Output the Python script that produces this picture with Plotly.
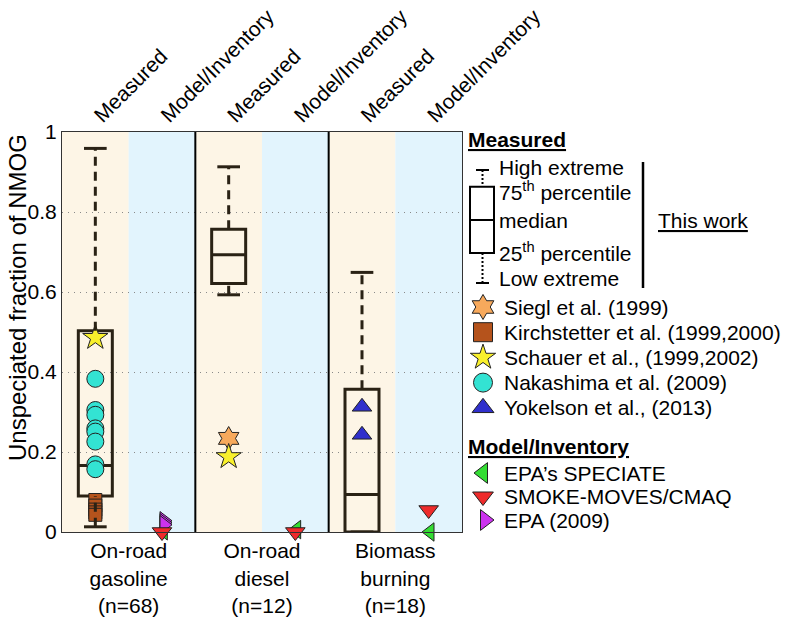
import plotly.graph_objects as go

# ---------------- data ----------------
categories = ["On-road<br>gasoline<br>(n=68)", "On-road<br>diesel<br>(n=12)", "Biomass<br>burning<br>(n=18)"]
top_labels = ["Measured", "Model/Inventory"] * 3

box_low = [0.013, 0.593, 0.0]
box_q1 = [0.090, 0.621, 0.0]
box_med = [0.166, 0.693, 0.094]
box_q3 = [0.503, 0.757, 0.357]
box_high = [0.959, 0.913, 0.649]

# measured literature values: (category index, value)
siegl_cat = [1]
siegl_val = [0.234]
kirch_cat = [0, 0, 0, 0, 0]
kirch_val = [0.080, 0.066, 0.056, 0.049, 0.043]
schauer_cat = [0, 1]
schauer_val = [0.486, 0.188]
naka_cat = [0, 0, 0, 0, 0, 0, 0, 0]
naka_val = [0.383, 0.305, 0.293, 0.259, 0.251, 0.226, 0.169, 0.157]
yok_cat = [2, 2]
yok_val = [0.313, 0.243]

# model / inventory values
speciate_cat = [0, 1, 2]
speciate_val = [0.003, 0.006, 0.0]
smoke_cat = [0, 1, 2]
smoke_val = [0.0, 0.0, 0.055]
epa_cat = [0, 0, 0]
epa_val = [0.028, 0.023, 0.018]

# ---------------- style ----------------
FONT = "Liberation Sans, Arial, Helvetica, sans-serif"
BEIGE = "#FDF5E6"
LBLUE = "#E2F4FD"
BOXC = "#2A2215"
C_SIEGL = "#F7A95C"
C_KIRCH = "#B5531C"
C_SCHAUER = "#F9F02C"
C_NAKA = "#33E3D3"
C_YOK = "#3030CC"
C_SPEC = "#33DD33"
C_SMOKE = "#EE2B2B"
C_EPA = "#CC33EE"
OUT = dict(color="#222222", width=1)

def mx(cats, off=0.0):
    return [2 * c + 0.5 + off for c in cats]

def mdx(cats, off=0.0):
    return [2 * c + 1.5 + off for c in cats]

fig = go.Figure()

# ---- measured markers ----
fig.add_trace(go.Scatter(x=mx(kirch_cat), y=kirch_val, mode="markers",
                         marker=dict(symbol="square", size=13, color=C_KIRCH, line=OUT)))
fig.add_trace(go.Scatter(x=mx(naka_cat), y=naka_val, mode="markers",
                         marker=dict(symbol="circle", size=17, color=C_NAKA, line=OUT)))
fig.add_trace(go.Scatter(x=mx(siegl_cat), y=siegl_val, mode="markers",
                         marker=dict(symbol="hexagram", size=18, color=C_SIEGL, line=OUT)))
fig.add_trace(go.Scatter(x=mx(schauer_cat), y=schauer_val, mode="markers",
                         marker=dict(symbol="star", size=19, color=C_SCHAUER, line=OUT)))
fig.add_trace(go.Scatter(x=mx(yok_cat), y=yok_val, mode="markers",
                         marker=dict(symbol="triangle-up", size=17, color=C_YOK, line=OUT)))

# ---- box plots (this work) ----
xc = mx([0, 1, 2])
fig.add_trace(go.Box(x=xc, q1=box_q1, median=box_med, q3=box_q3,
                     lowerfence=box_q1, upperfence=box_q3, width=0.51, whiskerwidth=0,
                     line=dict(color=BOXC, width=3), fillcolor="rgba(0,0,0,0)",
                     boxpoints=False, hoverinfo="skip"))
wx, wy, cx, cy = [], [], [], []
for i, x in enumerate(xc):
    wx += [x, x, None, x, x, None]
    wy += [box_q3[i], box_high[i], None, box_low[i], box_q1[i], None]
    cx += [x - 0.17, x + 0.17, None, x - 0.17, x + 0.17, None]
    cy += [box_high[i], box_high[i], None, box_low[i], box_low[i], None]
fig.add_trace(go.Scatter(x=wx, y=wy, mode="lines",
                         line=dict(color=BOXC, width=3, dash="9px,6px"), hoverinfo="skip"))
fig.add_trace(go.Scatter(x=cx, y=cy, mode="lines",
                         line=dict(color=BOXC, width=3), hoverinfo="skip"))

# ---- model markers ----
fig.add_trace(go.Scatter(x=mdx(speciate_cat, 0.02), y=speciate_val, mode="markers", cliponaxis=False,
                         marker=dict(symbol="triangle-left", size=16, color=C_SPEC, line=OUT)))
fig.add_trace(go.Scatter(x=mdx(epa_cat, 0.03), y=epa_val, mode="markers", cliponaxis=False,
                         marker=dict(symbol="triangle-right", size=16, color=C_EPA, line=OUT)))
fig.add_trace(go.Scatter(x=mdx(smoke_cat), y=smoke_val, mode="markers", cliponaxis=False,
                         marker=dict(symbol="triangle-down", size=17, color=C_SMOKE, line=OUT)))

# ---------------- legend (pixel-like axis) ----------------
LX = 483
leg_meas = [("hexagram", C_SIEGL, "Siegl et al. (1999)"),
            ("square", C_KIRCH, "Kirchstetter et al. (1999,2000)"),
            ("star", C_SCHAUER, "Schauer et al., (1999,2002)"),
            ("circle", C_NAKA, "Nakashima et al. (2009)"),
            ("triangle-up", C_YOK, "Yokelson et al., (2013)")]
leg_mod = [("triangle-left", C_SPEC, "EPA\u2019s SPECIATE"),
           ("triangle-down", C_SMOKE, "SMOKE-MOVES/CMAQ"),
           ("triangle-right", C_EPA, "EPA (2009)")]

annotations = []
shapes = []

def leg_text(x, y, t):
    annotations.append(dict(x=x, y=y, xref="x3", yref="y3", text=t, showarrow=False,
                            xanchor="left", yanchor="middle",
                            font=dict(size=21, family=FONT, color="black")))

leg_text(466, 139, "<b><u>Measured</u></b>")
for k, (sym, col, lab) in enumerate(leg_meas):
    y = 307 + 25.2 * k
    fig.add_trace(go.Scatter(x=[LX], y=[y], mode="markers", xaxis="x3", yaxis="y3", cliponaxis=False,
                             marker=dict(symbol=sym, size=19, color=col, line=OUT)))
    leg_text(502, y, lab)
leg_text(466, 446, "<b><u>Model/Inventory</u></b>")
for k, (sym, col, lab) in enumerate(leg_mod):
    y = 473 + 23.5 * k
    fig.add_trace(go.Scatter(x=[LX + (2 if sym == "triangle-right" else 0)], y=[y], mode="markers",
                             xaxis="x3", yaxis="y3", cliponaxis=False,
                             marker=dict(symbol=sym, size=18, color=col, line=OUT)))
    leg_text(502, y, lab)

# box explanation
for t, y in [("High extreme", 167), ("75<sup>th</sup> percentile", 191), ("median", 220),
             ("25<sup>th</sup> percentile", 252), ("Low extreme", 278)]:
    leg_text(497, y, t)
leg_text(656, 220, "<u>This work</u>")

def s(**kw):
    d = dict(xref="x3", yref="y3", layer="above")
    d.update(kw)
    shapes.append(d)

s(type="rect", x0=470, x1=494, y0=186.7, y1=253, line=dict(color="black", width=2))
s(type="line", x0=470, x1=494, y0=220, y1=220, line=dict(color="black", width=2))
s(type="line", x0=476, x1=489, y0=170, y1=170, line=dict(color="black", width=2))
s(type="line", x0=476, x1=489, y0=283, y1=283, line=dict(color="black", width=2))
s(type="line", x0=482.5, x1=482.5, y0=170, y1=186.7, line=dict(color="black", width=2, dash="2px,2px"))
s(type="line", x0=482.5, x1=482.5, y0=253, y1=283, line=dict(color="black", width=2, dash="2px,2px"))
s(type="line", x0=643, x1=643, y0=162, y1=288, line=dict(color="black", width=2.5))

# ---------------- background panels ----------------
for i in range(6):
    shapes.append(dict(type="rect", xref="x", yref="y", x0=i, x1=i + 1, y0=0, y1=1,
                       fillcolor=BEIGE if i % 2 == 0 else LBLUE, line=dict(width=0), layer="below"))
for b in [2, 4]:
    shapes.append(dict(type="line", xref="x", yref="y", x0=b, x1=b, y0=0, y1=1,
                       line=dict(color="black", width=2), layer="above"))

W, H = 793, 617
L, R, T, B = 62, 0, 132, 85
PW = W - L - R
d_end = 400 / PW

# y-axis title placed as rotated annotation (off-centre as in reference)
annotations.append(dict(x=(17 - L) / PW, xref="paper", y=298, yref="y3",
                        text="Unspeciated fraction of NMOG", textangle=-90, showarrow=False,
                        xanchor="center", yanchor="middle",
                        font=dict(size=24, family=FONT, color="black")))

fig.update_layout(
    width=W, height=H, margin=dict(l=L, r=R, t=T, b=B, autoexpand=False),
    paper_bgcolor="white", plot_bgcolor="white", showlegend=False,
    font=dict(family=FONT, size=21, color="black"),
    annotations=annotations, shapes=shapes,
    xaxis=dict(domain=[0, d_end], range=[0, 6], tickmode="array", tickvals=[1, 3, 5],
               ticktext=categories, showgrid=False, zeroline=False, showline=True, mirror=True,
               linecolor="#333333", linewidth=1, ticks="", tickfont=dict(size=21), automargin=False),
    xaxis2=dict(domain=[0, d_end], range=[0, 6], overlaying="x", side="top", anchor="y",
                tickmode="array", tickvals=[0.5, 1.5, 2.5, 3.5, 4.5, 5.5], ticktext=top_labels,
                tickangle=-45, showgrid=False, zeroline=False, showline=False, ticks="",
                tickfont=dict(size=21), automargin=False),
    yaxis=dict(range=[0, 1], tickvals=[0, 0.2, 0.4, 0.6, 0.8, 1],
               ticktext=["0", "0.2", "0.4", "0.6", "0.8", "1"], showgrid=True,
               gridcolor="#8A8A8A", griddash="1px,5px", gridwidth=1, zeroline=False,
               showline=True, mirror=True, linecolor="#333333", linewidth=1, ticks="",
               tickfont=dict(size=21), automargin=False),
    xaxis3=dict(domain=[d_end, 1], range=[462, 793], visible=False, anchor="y3"),
    yaxis3=dict(domain=[0, 1], range=[532, 132], visible=False, anchor="x3"),
)
# dummy trace so the top axis is drawn
fig.add_trace(go.Scatter(x=[0.5], y=[None], xaxis="x2", yaxis="y", mode="markers", hoverinfo="skip"))

fig.write_html("out.html", config={"displayModeBar": False},
               post_script="document.body.style.margin='0px';")
